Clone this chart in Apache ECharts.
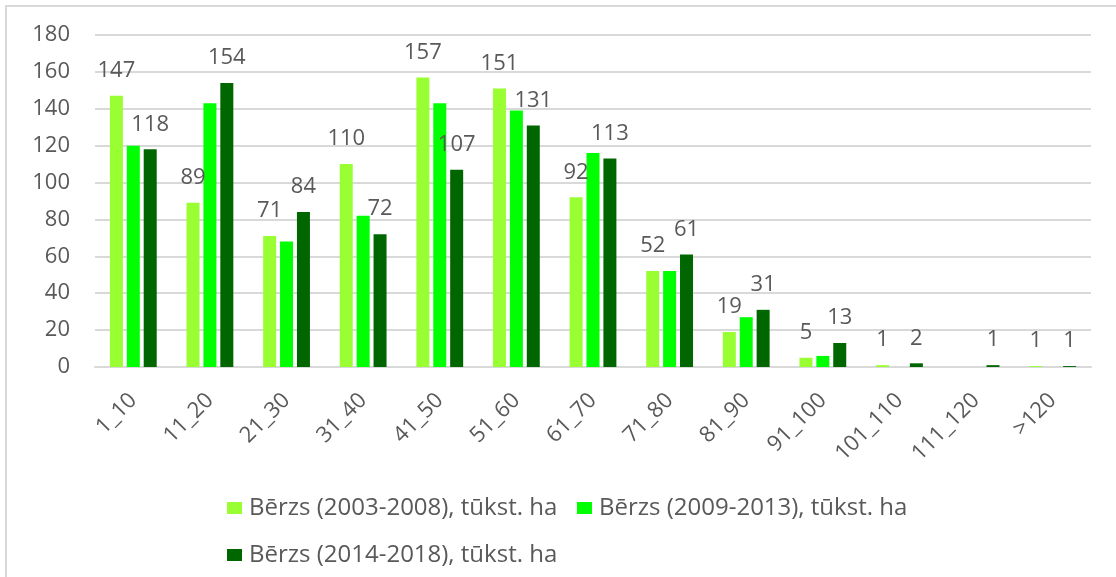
<!DOCTYPE html>
<html>
<head>
<meta charset="utf-8">
<script src="https://cdn.jsdelivr.net/npm/echarts@6/dist/echarts.min.js"></script>
<style>
  html, body { margin: 0; padding: 0; background: #fff; }
  #frame {
    position: absolute; left: 5px; top: 5px; width: 1111px; height: 572px;
    border-top: 2px solid #d9d9d9; border-left: 2px solid #d9d9d9;
    box-sizing: border-box;
  }
  #chart { position: absolute; left: 0; top: 0; width: 1116px; height: 577px; }
</style>
</head>
<body>
<div id="frame"></div>
<div id="chart"></div>
<script>
const categories = ["1_10", "11_20", "21_30", "31_40", "41_50", "51_60", "61_70",
  "71_80", "81_90", "91_100", "101_110", "111_120", ">120"];
const seriesNames = [
  "Bērzs (2003-2008), tūkst. ha",
  "Bērzs (2009-2013), tūkst. ha",
  "Bērzs (2014-2018), tūkst. ha"
];
const berzs2003 = [147, 89, 71, 110, 157, 151, 92, 52, 19, 5, 1, null, 0.5];
const berzs2009 = [120, 143, 68, 82, 143, 139, 116, 52, 27, 6, 0, 0, 0];
const berzs2014 = [118, 154, 84, 72, 107, 131, 113, 61, 31, 13, 2, 1, 0.5];
const yTicks = { min: 0, max: 180, interval: 20 };

const colors = ["#99ff33", "#00ff00", "#006600"];
const textColor = "#595959";
const font = "Open Sans";

const chart = echarts.init(document.getElementById("chart"), null, { renderer: "canvas" });

// labels only on the first and last series, like the source
const valueLabel = {
  show: true,
  position: "top",
  distance: 14,
  color: textColor,
  fontFamily: font,
  fontSize: 22,
  formatter: (p) => (p.value == null ? "" : Math.round(p.value))
};

// one legend per item so each can sit where the source has it
function legendAt(name, left, top) {
  return {
    data: [name],
    left: left,
    top: top,
    itemWidth: 15,
    itemHeight: 12,
    icon: "rect",
    textStyle: { color: textColor, fontFamily: font, fontSize: 24, padding: [0, 0, 0, 2] }
  };
}

chart.setOption({
  animation: false,
  color: colors,
  grid: { left: 95, right: 25, top: 35, bottom: 210, containLabel: false },
  legend: [
    legendAt(seriesNames[0], 222, 491),
    legendAt(seriesNames[1], 572, 491),
    legendAt(seriesNames[2], 222, 538)
  ],
  xAxis: {
    type: "category",
    data: categories,
    axisTick: { show: false },
    axisLine: { lineStyle: { color: "#d9d9d9", width: 2 } },
    axisLabel: {
      rotate: 45,
      interval: 0,
      margin: 30,
      color: textColor,
      fontFamily: font,
      fontSize: 22
    }
  },
  yAxis: {
    type: "value",
    min: yTicks.min,
    max: yTicks.max,
    interval: yTicks.interval,
    axisLine: { show: false },
    axisTick: { show: false },
    splitLine: { lineStyle: { color: "#d9d9d9", width: 2 } },
    axisLabel: { margin: 25, color: textColor, fontFamily: font, fontSize: 22 }
  },
  series: [
    { name: seriesNames[0], type: "bar", data: berzs2003, barWidth: 13, barGap: "30%", label: valueLabel },
    { name: seriesNames[1], type: "bar", data: berzs2009, barWidth: 13, barGap: "30%" },
    { name: seriesNames[2], type: "bar", data: berzs2014, barWidth: 13, barGap: "30%", label: valueLabel }
  ]
});
</script>
</body>
</html>
